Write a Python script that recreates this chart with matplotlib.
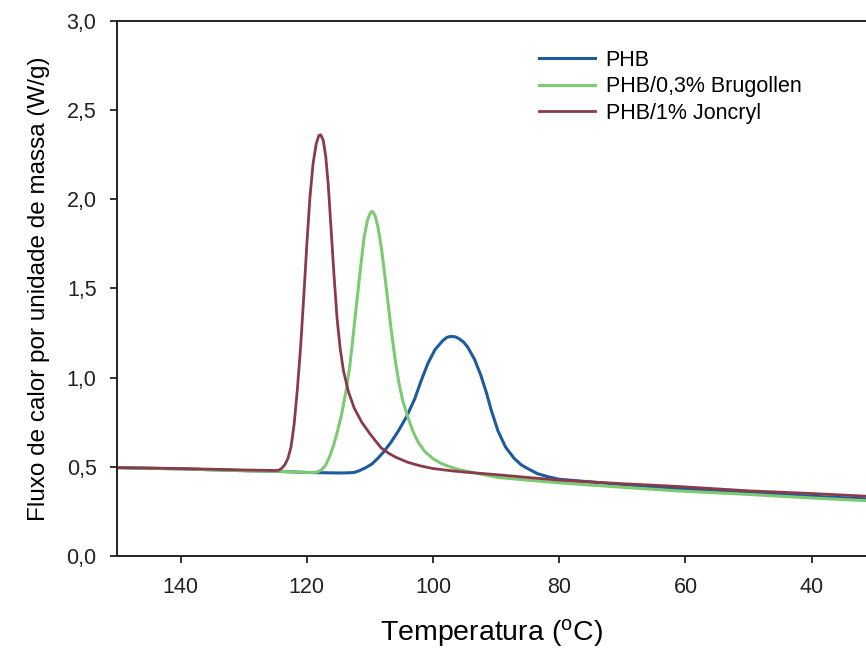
import matplotlib
matplotlib.use("Agg")
import matplotlib.pyplot as plt
from matplotlib.ticker import FuncFormatter

plt.rcParams['font.family'] = ['Liberation Sans', 'DejaVu Sans']

# Dados (temperatura em °C, fluxo em W/g)
t_phb = [150, 140, 130, 125, 120, 115, 113.5, 112.5, 111.8, 110.8, 109.7, 108.8,
         107.9, 106.7, 105.5, 104.2, 102.9, 101.9, 100.8, 99.7, 98.5, 97.8, 97.2,
         96.5, 96.0, 95.2, 94.5, 93.4, 92.4, 91.5, 90.8, 89.7, 88.5, 87.1, 86, 85,
         83.5, 81.9, 80, 70, 60, 50, 40, 31.4]
y_phb = [0.495, 0.488, 0.478, 0.475, 0.468, 0.465, 0.466, 0.468, 0.476, 0.492,
         0.515, 0.545, 0.58, 0.635, 0.70, 0.78, 0.88, 0.98, 1.08, 1.155, 1.205,
         1.225, 1.23, 1.228, 1.22, 1.20, 1.17, 1.10, 1.01, 0.91, 0.82, 0.70, 0.61,
         0.545, 0.51, 0.49, 0.462, 0.445, 0.43, 0.40, 0.375, 0.355, 0.335, 0.32]

t_brug = [150, 140, 130, 125, 120, 119, 118.2, 117.6, 117.0, 116.4, 115.8, 115.2,
          114.5, 113.8, 113.2, 112.6, 112.0, 111.4, 110.9, 110.4, 109.9, 109.6,
          109.2, 108.7, 108.2, 107.7, 107.2, 106.6, 106.0, 105.4, 104.8, 104.0,
          103.2, 102.4, 101.3, 100, 98.8, 97.6, 96, 94, 89.7, 85, 80, 70, 61.4,
          50, 40, 31.4]
y_brug = [0.495, 0.488, 0.478, 0.475, 0.468, 0.467, 0.472, 0.485, 0.51, 0.555,
          0.615, 0.69, 0.79, 0.92, 1.06, 1.25, 1.45, 1.64, 1.79, 1.88, 1.925, 1.93,
          1.91, 1.84, 1.73, 1.59, 1.44, 1.26, 1.10, 0.97, 0.87, 0.78, 0.70, 0.64,
          0.585, 0.545, 0.52, 0.503, 0.485, 0.47, 0.44, 0.425, 0.41, 0.385, 0.365,
          0.345, 0.325, 0.31]

t_jonc = [150, 140, 130, 125, 124.5, 124.0, 123.5, 123.0, 122.5, 122.0, 121.5,
          121.0, 120.5, 120.0, 119.5, 119.0, 118.5, 118.1, 117.8, 117.4, 117.0,
          116.6, 116.2, 115.7, 115.2, 114.7, 114.2, 113.4, 112.5, 111.3, 110.0,
          109, 108.2, 107, 106, 104, 102, 100, 97, 95, 89.7, 85, 80, 70, 61.4, 50,
          40, 31.4]
y_jonc = [0.495, 0.49, 0.482, 0.479, 0.48, 0.49, 0.51, 0.545, 0.61, 0.74, 0.93,
          1.16, 1.44, 1.74, 2.01, 2.20, 2.31, 2.355, 2.36, 2.33, 2.24, 2.08, 1.86,
          1.58, 1.33, 1.16, 1.04, 0.92, 0.83, 0.75, 0.685, 0.64, 0.605, 0.575,
          0.555, 0.525, 0.505, 0.49, 0.477, 0.47, 0.455, 0.44, 0.425, 0.405, 0.39,
          0.365, 0.35, 0.335]

x_ticks = [140, 120, 100, 80, 60, 40]
y_ticks = [0.0, 0.5, 1.0, 1.5, 2.0, 2.5, 3.0]

fig = plt.figure(figsize=(8.66, 6.49), dpi=100)
ax = fig.add_axes([0.1356, 0.1433, 0.8644, 0.8251])

ax.plot(t_phb, y_phb, color="#1d5b9c", lw=2.2, label="PHB")
ax.plot(t_brug, y_brug, color="#7ccb72", lw=2.2, label="PHB/0,3% Brugollen")
ax.plot(t_jonc, y_jonc, color="#8a3a4a", lw=2.0, label="PHB/1% Joncryl")

ax.set_xlim(150, 31.4)
ax.set_ylim(0, 3.0)
ax.set_xticks(x_ticks)
ax.set_yticks(y_ticks)
ax.yaxis.set_major_formatter(FuncFormatter(lambda v, p: f"{v:.1f}".replace(".", ",")))

ax.spines["right"].set_visible(False)
for s in ["left", "bottom", "top"]:
    ax.spines[s].set_linewidth(1.4)
    ax.spines[s].set_color("#222222")
ax.tick_params(direction="out", length=5, width=1.3, labelsize=15.5,
               colors="#222222", pad=10)

ax.set_xlabel("Temperatura ($\\mathregular{^{o}}$C)", fontsize=20.5, labelpad=14)
ax.set_ylabel("Fluxo de calor por unidade de massa (W/g)", fontsize=17.5, labelpad=12)

ax.legend(loc="upper left", bbox_to_anchor=(0.563, 0.945), frameon=False,
          fontsize=15.5, handlelength=2.6, handletextpad=0.5, labelspacing=0.25,
          borderpad=0, borderaxespad=0)

fig.savefig("out.png", dpi=100)
